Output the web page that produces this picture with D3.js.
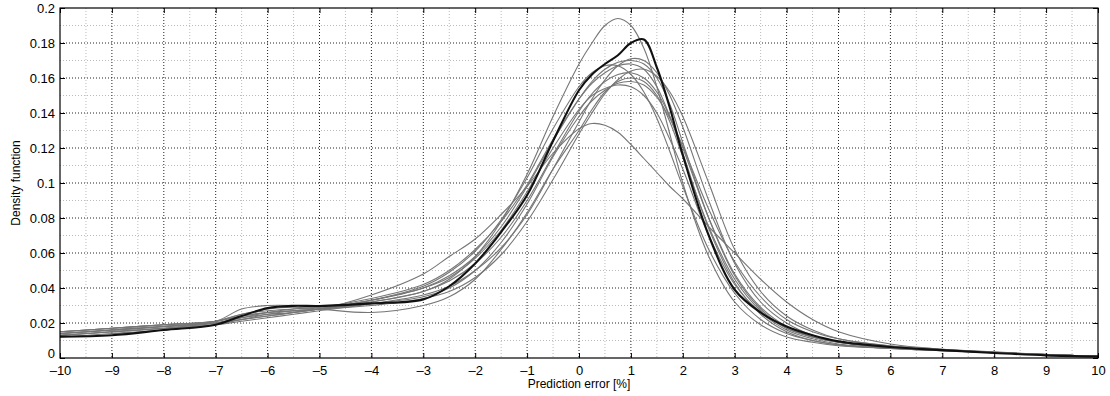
<!DOCTYPE html>
<html>
<head>
<meta charset="utf-8">
<script src="https://cdn.jsdelivr.net/npm/d3@7"></script>
<style>
  body { margin: 0; background: #fff; }
  text { font-family: "Liberation Sans", Arial, sans-serif; }
</style>
</head>
<body>
<div id="chart"></div>
<script>
const W = 1110, H = 396;
const margin = { top: 8, right: 12, bottom: 38, left: 60 };
const width = W - margin.left - margin.right;
const height = H - margin.top - margin.bottom;

// error grid (%) shared by all curves
const xs = [-10, -9, -8, -7, -6.5, -6, -5.5, -5, -4, -3, -2.5, -2, -1.5, -1, -0.5, 0, 0.25, 0.5, 0.75, 1, 1.25, 1.5, 1.75, 2, 2.5, 3, 3.5, 4, 4.5, 5, 6, 7, 8, 9, 10];

// thick black curve
const mainCurve = [0.0122, 0.013, 0.016, 0.019, 0.024, 0.0285, 0.0298, 0.0297, 0.0312, 0.0335, 0.041, 0.054, 0.072, 0.093, 0.124, 0.153, 0.162, 0.168, 0.173, 0.18, 0.182, 0.166, 0.143, 0.116, 0.07, 0.039, 0.026, 0.018, 0.013, 0.0095, 0.0063, 0.0045, 0.0029, 0.0015, 0.0008];

// thin grey curves
const greyCurves = [
  [0.013, 0.015, 0.017, 0.02, 0.023, 0.026, 0.028, 0.029, 0.032, 0.038, 0.045, 0.058, 0.078, 0.105, 0.138, 0.168, 0.18, 0.19, 0.194, 0.19, 0.177, 0.155, 0.128, 0.1, 0.058, 0.032, 0.019, 0.012, 0.009, 0.007, 0.0055, 0.0042, 0.003, 0.002, 0.001],
  [0.015, 0.017, 0.019, 0.021, 0.024, 0.026, 0.027, 0.028, 0.036, 0.048, 0.058, 0.068, 0.082, 0.098, 0.117, 0.131, 0.134, 0.133, 0.129, 0.122, 0.114, 0.106, 0.098, 0.091, 0.075, 0.06, 0.045, 0.032, 0.022, 0.015, 0.008, 0.005, 0.0035, 0.002, 0.001],
  [0.014, 0.016, 0.018, 0.021, 0.025, 0.028, 0.029, 0.028, 0.026, 0.03, 0.035, 0.045, 0.062, 0.083, 0.108, 0.13, 0.142, 0.152, 0.158, 0.16, 0.158, 0.15, 0.135, 0.115, 0.075, 0.045, 0.027, 0.017, 0.012, 0.009, 0.006, 0.0045, 0.003, 0.002, 0.001],
  [0.014, 0.016, 0.018, 0.021, 0.028, 0.03, 0.03, 0.029, 0.033, 0.04, 0.047, 0.058, 0.075, 0.098, 0.124, 0.148, 0.158, 0.165, 0.169, 0.17, 0.168, 0.16, 0.145, 0.123, 0.08, 0.047, 0.028, 0.017, 0.012, 0.009, 0.006, 0.0045, 0.003, 0.002, 0.001],
  [0.013, 0.015, 0.017, 0.019, 0.021, 0.023, 0.025, 0.027, 0.031, 0.036, 0.041, 0.05, 0.063, 0.082, 0.108, 0.135, 0.148, 0.159, 0.167, 0.171, 0.17, 0.163, 0.15, 0.132, 0.09, 0.054, 0.032, 0.02, 0.013, 0.0095, 0.006, 0.0045, 0.003, 0.002, 0.001],
  [0.015, 0.017, 0.019, 0.021, 0.024, 0.026, 0.027, 0.028, 0.033, 0.041, 0.049, 0.061, 0.079, 0.103, 0.131, 0.155, 0.163, 0.167, 0.167, 0.162, 0.152, 0.137, 0.118, 0.098, 0.062, 0.037, 0.022, 0.014, 0.01, 0.0075, 0.0055, 0.0042, 0.003, 0.002, 0.001],
  [0.014, 0.016, 0.018, 0.02, 0.022, 0.024, 0.026, 0.028, 0.032, 0.038, 0.044, 0.054, 0.069, 0.09, 0.116, 0.141, 0.151, 0.158, 0.162, 0.163, 0.16, 0.152, 0.138, 0.12, 0.08, 0.048, 0.029, 0.018, 0.012, 0.009, 0.006, 0.0045, 0.003, 0.002, 0.001],
  [0.013, 0.015, 0.017, 0.02, 0.023, 0.025, 0.026, 0.028, 0.031, 0.035, 0.04, 0.05, 0.066, 0.088, 0.115, 0.138, 0.147, 0.153, 0.157, 0.158, 0.156, 0.149, 0.137, 0.121, 0.085, 0.055, 0.035, 0.022, 0.015, 0.011, 0.0068, 0.0048, 0.0032, 0.002, 0.001],
  [0.014, 0.016, 0.018, 0.02, 0.022, 0.024, 0.026, 0.028, 0.033, 0.04, 0.046, 0.057, 0.073, 0.095, 0.12, 0.142, 0.15, 0.154, 0.156, 0.155, 0.15, 0.14, 0.125, 0.108, 0.07, 0.042, 0.026, 0.016, 0.011, 0.008, 0.0058, 0.0043, 0.003, 0.002, 0.001],
  [0.012, 0.014, 0.016, 0.019, 0.022, 0.025, 0.027, 0.028, 0.03, 0.034, 0.038, 0.046, 0.059, 0.078, 0.102, 0.128, 0.14, 0.151, 0.159, 0.164, 0.165, 0.161, 0.152, 0.138, 0.1, 0.062, 0.038, 0.024, 0.016, 0.011, 0.007, 0.005, 0.0033, 0.002, 0.001],
  [0.015, 0.017, 0.019, 0.021, 0.025, 0.027, 0.028, 0.029, 0.034, 0.042, 0.05, 0.062, 0.078, 0.099, 0.125, 0.148, 0.157, 0.163, 0.167, 0.168, 0.165, 0.155, 0.138, 0.117, 0.074, 0.043, 0.025, 0.015, 0.01, 0.0075, 0.0055, 0.0042, 0.003, 0.002, 0.001]
];

const xTicks = d3.range(-10, 11, 1);
const yTicks = [0, 0.02, 0.04, 0.06, 0.08, 0.1, 0.12, 0.14, 0.16, 0.18, 0.2];
const xMinor = d3.range(-9.5, 10, 1);
const yMinor = d3.range(0.01, 0.2, 0.02);

const x = d3.scaleLinear().domain([-10, 10]).range([0, width]);
const y = d3.scaleLinear().domain([0, 0.2]).range([height, 0]);

const svg = d3.select("#chart").append("svg")
    .attr("width", W)
    .attr("height", H)
    .append("g")
    .attr("transform", `translate(${margin.left},${margin.top})`);

// minor grid (light dotted)
svg.append("g").selectAll("line")
    .data(xMinor)
    .join("line")
    .attr("x1", d => x(d)).attr("x2", d => x(d))
    .attr("y1", 0).attr("y2", height)
    .attr("stroke", "#bbb").attr("stroke-dasharray", "1,2");

svg.append("g").selectAll("line")
    .data(yMinor)
    .join("line")
    .attr("x1", 0).attr("x2", width)
    .attr("y1", d => y(d)).attr("y2", d => y(d))
    .attr("stroke", "#bbb").attr("stroke-dasharray", "1,2");

// major grid (black dotted)
svg.append("g").selectAll("line")
    .data(xTicks.slice(1, -1))
    .join("line")
    .attr("x1", d => x(d)).attr("x2", d => x(d))
    .attr("y1", 0).attr("y2", height)
    .attr("stroke", "#222").attr("stroke-dasharray", "1,2");

svg.append("g").selectAll("line")
    .data(yTicks.slice(1, -1))
    .join("line")
    .attr("x1", 0).attr("x2", width)
    .attr("y1", d => y(d)).attr("y2", d => y(d))
    .attr("stroke", "#222").attr("stroke-dasharray", "1,2");

const line = d3.line()
    .x((d, i) => x(xs[i]))
    .y(d => y(d))
    .curve(d3.curveCatmullRom.alpha(0.5));

svg.append("g").selectAll("path")
    .data(greyCurves)
    .join("path")
    .attr("fill", "none")
    .attr("stroke", "#767676")
    .attr("stroke-width", 1.1)
    .attr("d", line);

svg.append("path")
    .datum(mainCurve)
    .attr("fill", "none")
    .attr("stroke", "#111")
    .attr("stroke-width", 2.1)
    .attr("d", line);

// axes (ticks inward on all four sides)
const fmtX = d => (d < 0 ? "\u2013" + Math.abs(d) : d);
const fmtY = d => String(+d.toFixed(2));

svg.append("g")
    .attr("transform", `translate(0,${height})`)
    .call(d3.axisBottom(x).tickValues(xTicks).tickSizeInner(-5).tickSizeOuter(0).tickPadding(8).tickFormat(fmtX));
svg.append("g")
    .call(d3.axisTop(x).tickValues(xTicks).tickSizeInner(-5).tickSizeOuter(0).tickFormat(""));
const yAxis = svg.append("g")
    .call(d3.axisLeft(y).tickValues(yTicks).tickSizeInner(-5).tickSizeOuter(0).tickPadding(5).tickFormat(fmtY));
svg.append("g")
    .attr("transform", `translate(${width},0)`)
    .call(d3.axisRight(y).tickValues(yTicks).tickSizeInner(-5).tickSizeOuter(0).tickFormat(""));

svg.selectAll(".domain").remove();
svg.selectAll(".tick line").attr("stroke", "#000");
svg.selectAll(".tick text")
    .attr("fill", "#000")
    .style("font-size", "13px")
    .style("font-family", "'Liberation Sans', Arial, sans-serif");

// lift the "0" label clear of "-10"
yAxis.selectAll(".tick text").filter(d => d === 0).attr("dy", "-0.05em");

svg.append("rect")
    .attr("width", width)
    .attr("height", height)
    .attr("fill", "none")
    .attr("stroke", "#000")
    .attr("stroke-width", 1.2);

// axis labels
svg.append("text")
    .attr("x", width / 2)
    .attr("y", height + 30)
    .attr("text-anchor", "middle")
    .style("font-size", "12px")
    .text("Prediction error [%]");

svg.append("text")
    .attr("transform", "rotate(-90)")
    .attr("x", -height / 2)
    .attr("y", -40)
    .attr("text-anchor", "middle")
    .style("font-size", "12px")
    .text("Density function");
</script>
</body>
</html>
